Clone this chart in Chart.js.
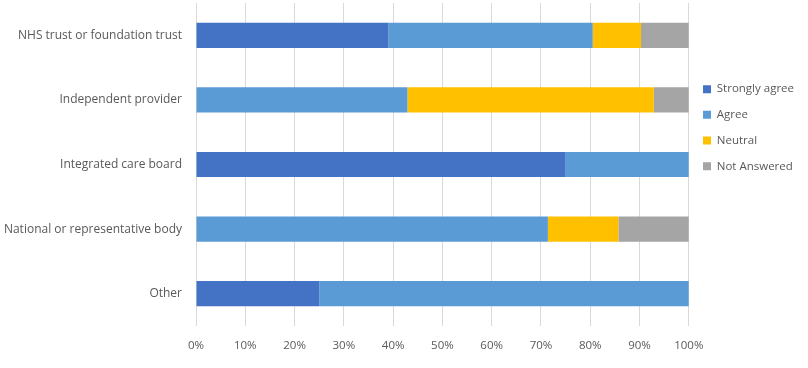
<!DOCTYPE html>
<html>
<head>
<meta charset="utf-8">
<script src="https://cdn.jsdelivr.net/npm/chart.js@4/dist/chart.umd.min.js"></script>
<style>
html,body{margin:0;padding:0;background:#fff;}
#wrap{width:808px;height:368px;position:relative;}
</style>
</head>
<body>
<div id="wrap"><canvas id="c" width="808" height="368"></canvas></div>
<script>
const categories = ["NHS trust or foundation trust", "Independent provider", "Integrated care board", "National or representative body", "Other"];
const stronglyAgree = [39.0, 0, 75, 0, 25];
const agree = [41.5, 42.9, 25, 71.4, 75];
const neutral = [9.8, 50, 0, 14.3, 0];
const notAnswered = [9.7, 7.1, 0, 14.3, 0];
const xTicks = [0, 10, 20, 30, 40, 50, 60, 70, 80, 90, 100];

const FONT = "'Open Sans', sans-serif";
const TXT = '#595959';

const ds = (label, data, color) => ({
  label, data, backgroundColor: color, borderWidth: 0,
  barPercentage: 0.39, categoryPercentage: 1.0
});

new Chart(document.getElementById('c'), {
  type: 'bar',
  data: {
    labels: categories,
    datasets: [
      ds('Strongly agree', stronglyAgree, '#4472C4'),
      ds('Agree', agree, '#5B9BD5'),
      ds('Neutral', neutral, '#FFC000'),
      ds('Not Answered', notAnswered, '#A5A5A5')
    ]
  },
  options: {
    indexAxis: 'y',
    responsive: false,
    animation: false,
    layout: { padding: { top: 3, left: 4, right: 4, bottom: 0 } },
    scales: {
      x: {
        stacked: true, min: 0, max: 100,
        afterBuildTicks: (s) => { s.ticks = xTicks.map(v => ({ value: v })); },
        afterFit: (s) => { s.height = 42; s.paddingLeft = 0; s.paddingRight = 0; },
        grid: { color: '#d9d9d9', drawTicks: false, lineWidth: 1 },
        border: { display: false },
        ticks: { padding: 13, color: TXT, font: { family: FONT, size: 11.5 }, callback: v => v + '%' }
      },
      y: {
        stacked: true,
        afterFit: (s) => { s.width = 192; s.paddingTop = 0; s.paddingBottom = 0; },
        grid: { display: false, drawTicks: false },
        border: { display: false },
        ticks: { padding: 14, color: TXT, font: { family: FONT, size: 12 } }
      }
    },
    plugins: {
      tooltip: { enabled: false },
      legend: {
        position: 'right',
        align: 'start',
        title: { display: true, text: ' ', padding: { top: 65, bottom: 0 }, font: { size: 1 } },
        labels: { boxWidth: 8, boxHeight: 8, padding: 14.2, color: TXT, font: { family: FONT, size: 11.5 } }
      }
    }
  }
});
</script>
</body>
</html>
